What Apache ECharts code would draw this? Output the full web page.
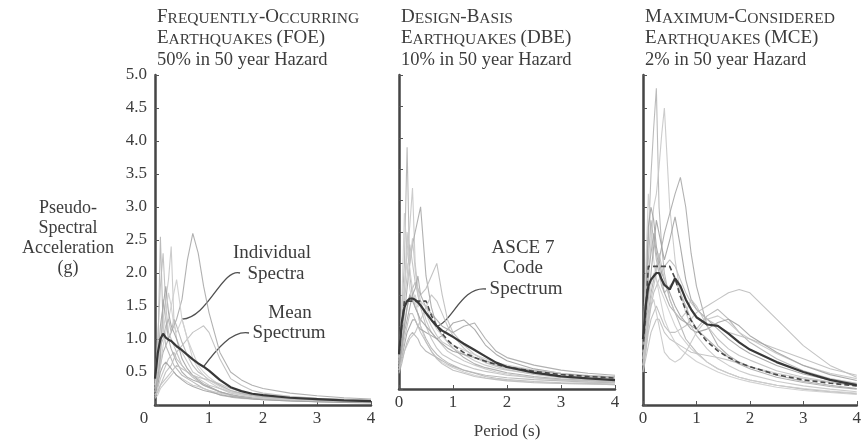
<!DOCTYPE html>
<html>
<head>
<meta charset="utf-8">
<script src="https://cdn.jsdelivr.net/npm/echarts@6/dist/echarts.min.js"></script>
<style>
  html, body { margin: 0; padding: 0; background: #fff; }
  #chart { width: 864px; height: 445px; }
</style>
</head>
<body>
<div id="chart"></div>
<script>
// Spectral periods (s) shared by every spectrum below
const periods = [0, 0.05, 0.1, 0.15, 0.2, 0.25, 0.3, 0.35, 0.4, 0.5, 0.6, 0.7, 0.8, 0.9, 1.0, 1.2, 1.4, 1.6, 1.8, 2.0, 2.5, 3.0, 3.5, 4.0];

// Frequently-occurring earthquakes (50% in 50 years): individual ground-motion spectra, Sa (g)
const foeRecords = [
  [0.30,0.70,2.55,1.20,0.90,0.80,0.70,0.60,0.55,0.45,0.40,0.35,0.30,0.25,0.22,0.15,0.12,0.10,0.09,0.08,0.06,0.05,0.04,0.035],
  [0.25,0.40,0.80,1.30,1.60,1.90,2.40,1.30,1.00,0.80,0.65,0.50,0.45,0.40,0.35,0.25,0.18,0.15,0.12,0.10,0.08,0.06,0.05,0.04],
  [0.25,0.35,0.60,0.80,0.90,1.00,1.10,1.20,1.30,1.60,2.20,2.60,2.30,1.80,1.40,0.80,0.50,0.38,0.30,0.25,0.18,0.14,0.11,0.09],
  [0.35,1.00,1.80,2.30,1.50,1.10,1.00,0.90,0.80,0.60,0.50,0.42,0.36,0.30,0.26,0.20,0.15,0.12,0.10,0.09,0.07,0.05,0.045,0.04],
  [0.20,0.35,0.60,0.90,1.10,1.30,1.50,1.70,1.90,1.30,1.00,0.80,0.60,0.50,0.42,0.30,0.22,0.17,0.14,0.12,0.09,0.07,0.06,0.05],
  [0.30,0.60,1.20,1.50,1.80,1.40,1.20,1.10,1.00,0.70,0.55,0.45,0.38,0.32,0.28,0.20,0.15,0.12,0.10,0.09,0.07,0.06,0.05,0.04],
  [0.15,0.25,0.40,0.50,0.60,0.70,0.75,0.80,0.70,0.60,0.50,0.45,0.40,0.35,0.30,0.25,0.20,0.17,0.14,0.12,0.09,0.07,0.06,0.05],
  [0.25,0.50,0.90,1.00,1.20,1.30,1.10,1.30,1.20,0.95,0.75,0.60,0.50,0.45,0.38,0.30,0.22,0.18,0.15,0.13,0.10,0.08,0.07,0.06],
  [0.10,0.15,0.25,0.30,0.35,0.40,0.45,0.50,0.45,0.40,0.35,0.30,0.28,0.25,0.22,0.18,0.15,0.12,0.10,0.09,0.07,0.06,0.05,0.04],
  [0.20,0.40,0.70,1.60,1.30,1.00,0.85,0.75,0.65,0.50,0.42,0.38,0.35,0.30,0.27,0.20,0.16,0.13,0.11,0.10,0.08,0.07,0.06,0.05],
  [0.15,0.20,0.30,0.40,0.50,0.55,0.60,0.70,0.80,0.90,1.00,1.10,1.15,1.20,1.10,0.70,0.40,0.30,0.22,0.18,0.13,0.10,0.08,0.07],
  [0.30,0.55,1.00,1.10,1.40,1.70,1.50,1.20,1.10,1.30,1.00,0.70,0.55,0.45,0.38,0.28,0.20,0.15,0.12,0.10,0.08,0.06,0.05,0.045],
  [0.20,0.30,0.50,0.60,0.65,0.60,0.55,0.50,0.45,0.38,0.32,0.28,0.25,0.22,0.20,0.16,0.13,0.11,0.09,0.08,0.06,0.05,0.04,0.035],
  [0.12,0.20,0.30,0.35,0.40,0.45,0.50,0.55,0.60,0.55,0.50,0.45,0.42,0.40,0.38,0.32,0.25,0.20,0.17,0.15,0.12,0.10,0.09,0.08]
];
const foeMean = [0.40,0.78,1.00,1.08,1.02,0.99,0.97,0.93,0.89,0.83,0.76,0.69,0.63,0.58,0.52,0.38,0.27,0.21,0.17,0.15,0.11,0.09,0.07,0.06];

// Design-basis earthquakes (10% in 50 years)
const dbeRecords = [
  [0.45,1.20,2.00,3.85,1.80,1.50,1.30,1.20,1.00,0.80,0.65,0.55,0.48,0.42,0.38,0.30,0.25,0.20,0.17,0.15,0.12,0.10,0.09,0.08],
  [0.50,0.90,1.60,2.20,2.60,3.20,2.00,1.60,1.40,1.10,0.90,0.80,0.70,0.60,0.55,0.45,0.38,0.32,0.27,0.24,0.18,0.15,0.13,0.11],
  [0.40,0.70,1.20,1.60,2.00,2.30,2.50,2.70,2.90,1.80,1.30,1.00,0.85,0.75,0.65,0.50,0.40,0.34,0.30,0.26,0.20,0.16,0.14,0.12],
  [0.35,0.60,1.00,1.30,1.50,1.60,1.70,1.60,1.50,1.60,1.80,2.00,1.50,1.10,0.90,0.70,0.55,0.45,0.38,0.33,0.25,0.20,0.17,0.15],
  [0.50,1.30,2.80,2.20,1.90,1.60,1.40,1.20,1.00,0.75,0.60,0.50,0.42,0.38,0.34,0.27,0.22,0.18,0.16,0.14,0.11,0.09,0.08,0.07],
  [0.30,0.50,0.70,0.90,1.00,1.10,1.10,1.00,0.95,0.90,0.85,0.80,0.85,0.95,1.05,1.10,0.95,0.70,0.55,0.45,0.32,0.25,0.20,0.17],
  [0.40,0.80,1.40,1.80,2.30,2.00,1.70,1.50,1.30,1.00,0.80,0.65,0.55,0.50,0.45,0.38,0.32,0.28,0.25,0.22,0.18,0.15,0.13,0.12],
  [0.25,0.40,0.60,0.75,0.85,0.90,0.85,0.80,0.70,0.60,0.55,0.50,0.45,0.40,0.36,0.30,0.26,0.22,0.20,0.18,0.15,0.13,0.11,0.10],
  [0.45,0.90,1.50,2.50,2.00,2.40,1.90,1.50,1.30,1.20,1.00,0.85,0.75,0.70,0.65,0.55,0.45,0.38,0.33,0.30,0.24,0.20,0.18,0.16],
  [0.35,0.60,0.90,1.10,1.30,1.50,1.60,1.80,1.50,1.30,1.20,1.10,1.00,0.95,0.90,1.00,1.05,0.80,0.60,0.50,0.38,0.30,0.25,0.22],
  [0.30,0.50,0.80,1.00,1.20,1.20,1.10,1.00,0.90,0.75,0.60,0.48,0.40,0.35,0.30,0.25,0.20,0.17,0.15,0.13,0.10,0.09,0.08,0.07],
  [0.55,1.10,1.70,2.00,1.60,1.40,1.50,1.30,1.40,1.30,1.10,0.95,0.85,0.75,0.70,0.62,0.55,0.48,0.42,0.38,0.30,0.25,0.22,0.20],
  [0.40,0.70,1.00,1.30,1.50,1.40,1.30,1.20,1.10,1.00,0.90,0.80,0.72,0.65,0.60,0.55,0.50,0.45,0.40,0.36,0.29,0.24,0.21,0.19],
  [0.30,0.45,0.60,0.70,0.80,0.85,0.90,1.00,1.10,1.30,1.50,1.40,1.20,1.00,0.85,0.65,0.50,0.42,0.36,0.31,0.23,0.18,0.15,0.13]
];
const dbeMean = [0.55,1.05,1.30,1.40,1.44,1.44,1.42,1.38,1.33,1.21,1.10,1.00,0.93,0.88,0.83,0.72,0.62,0.52,0.42,0.35,0.26,0.20,0.17,0.14];
const dbeCode = [0.56,1.00,1.40,1.40,1.40,1.40,1.40,1.40,1.40,1.40,1.17,1.00,0.88,0.78,0.70,0.58,0.50,0.44,0.39,0.35,0.28,0.23,0.20,0.175];

// Maximum-considered earthquakes (2% in 50 years)
const mceRecords = [
  [0.90,1.50,2.50,3.50,4.20,4.80,3.00,2.40,2.00,1.60,1.40,1.20,1.00,0.90,0.80,0.65,0.55,0.48,0.42,0.38,0.30,0.24,0.20,0.17],
  [0.80,1.20,1.80,2.50,3.00,3.20,3.60,4.10,4.50,3.00,2.20,1.70,1.40,1.20,1.05,0.85,0.70,0.60,0.52,0.46,0.36,0.29,0.24,0.20],
  [0.70,1.00,1.40,1.70,1.90,2.10,2.20,2.40,2.60,2.90,3.20,3.45,3.00,2.30,1.80,1.20,0.90,0.75,0.65,0.58,0.45,0.36,0.30,0.25],
  [0.60,0.80,1.10,1.30,1.40,1.50,1.40,1.30,1.20,1.10,1.10,1.15,1.20,1.30,1.40,1.50,1.60,1.70,1.75,1.70,1.30,0.90,0.60,0.42],
  [1.00,2.00,3.20,2.60,2.20,1.90,1.80,1.70,1.60,1.40,1.20,1.05,0.95,0.85,0.78,0.65,0.55,0.48,0.42,0.38,0.30,0.25,0.21,0.18],
  [0.70,1.10,1.60,2.00,2.40,2.80,2.60,2.40,2.20,2.50,2.85,2.40,1.90,1.60,1.45,1.30,1.15,1.00,0.88,0.78,0.60,0.47,0.38,0.32],
  [0.50,0.70,0.90,1.10,1.20,1.30,1.30,1.20,1.10,1.00,0.95,0.90,0.85,0.80,0.78,0.75,0.72,0.68,0.63,0.58,0.48,0.40,0.34,0.29],
  [0.90,1.40,2.20,2.80,2.50,2.20,2.00,1.80,1.70,1.80,1.90,1.70,1.50,1.30,1.15,1.35,1.45,1.30,1.10,0.95,0.70,0.52,0.40,0.33],
  [0.60,0.90,1.30,1.50,1.60,1.40,1.20,1.00,0.80,0.70,0.65,0.70,0.80,0.95,1.10,1.30,1.35,1.25,1.10,1.00,0.78,0.60,0.48,0.40],
  [0.80,1.30,2.00,2.30,2.60,2.30,2.10,1.90,1.70,1.50,1.40,1.30,1.25,1.20,1.15,1.00,0.85,0.72,0.62,0.55,0.42,0.34,0.28,0.24],
  [0.50,0.80,1.20,1.50,1.70,1.80,1.90,2.00,2.10,2.20,2.10,1.90,1.70,1.55,1.45,1.30,1.20,1.10,1.05,1.00,0.85,0.70,0.55,0.45],
  [0.70,1.00,1.50,1.80,2.00,1.90,1.70,1.50,1.30,1.10,0.95,0.85,0.78,0.72,0.66,0.58,0.50,0.44,0.39,0.35,0.27,0.22,0.19,0.16],
  [0.90,1.60,2.70,3.00,2.80,2.40,2.20,2.00,1.90,1.70,1.50,1.35,1.25,1.15,1.10,1.15,1.25,1.30,1.20,1.05,0.80,0.60,0.46,0.37],
  [0.60,0.90,1.30,1.60,1.80,2.00,2.30,2.10,1.90,1.60,1.40,1.30,1.40,1.60,1.50,1.20,1.00,0.85,0.75,0.68,0.52,0.42,0.35,0.30]
];
const mceMean = [1.00,1.50,1.80,1.90,1.95,2.00,2.00,1.90,1.82,1.75,1.92,1.80,1.60,1.45,1.33,1.22,1.20,1.08,0.95,0.84,0.65,0.50,0.38,0.30];
const mceCode = [0.84,1.40,2.10,2.10,2.10,2.10,2.10,2.10,2.10,2.10,1.92,1.64,1.44,1.28,1.15,0.96,0.82,0.72,0.64,0.58,0.46,0.38,0.33,0.29];

// Acceleration ticks (g) and period ticks (s)
const saTicks = [0, 0.5, 1.0, 1.5, 2.0, 2.5, 3.0, 3.5, 4.0, 4.5, 5.0];
const periodTicks = [0, 1, 2, 3, 4];

const SERIF = '"Liberation Serif", "DejaVu Serif", serif';
const INK = '#3c3c3c';
const grays = ['#b4b4b4', '#c6c6c6', '#a9a9a9', '#bcbcbc', '#cdcdcd', '#a2a2a2', '#c0c0c0'];

const pairs = vals => periods.map((p, i) => [p, vals[i]]);

const panels = [
  { records: foeRecords, mean: foeMean, code: null },
  { records: dbeRecords, mean: dbeMean, code: dbeCode },
  { records: mceRecords, mean: mceMean, code: mceCode }
];
const gridBoxes = [
  { left: 155, top: 75, width: 216, height: 330 },
  { left: 399, top: 75, width: 216, height: 330 },
  { left: 643, top: 75, width: 214, height: 330 }
];

const series = [];
panels.forEach((pn, k) => {
  pn.records.forEach((r, j) => {
    series.push({
      type: 'line', xAxisIndex: k, yAxisIndex: k, data: pairs(r),
      symbol: 'none', silent: true, z: 2,
      lineStyle: { color: grays[j % grays.length], width: 1.1, opacity: 0.9 }
    });
  });
  if (pn.code) {
    series.push({
      type: 'line', xAxisIndex: k, yAxisIndex: k, data: pairs(pn.code),
      symbol: 'none', silent: true, z: 4,
      lineStyle: { color: '#4a4a4a', width: 1.6, type: [5, 3] }
    });
  }
  series.push({
    type: 'line', xAxisIndex: k, yAxisIndex: k, data: pairs(pn.mean),
    symbol: 'none', silent: true, z: 5,
    lineStyle: { color: '#383838', width: 2.2 }
  });
});

const axisLineStyle = { color: '#454545', width: 2.5 };
const xAxes = gridBoxes.map((g, k) => ({
  type: 'value', gridIndex: k, min: periodTicks[0], max: periodTicks[periodTicks.length - 1], interval: 1,
  axisLine: { show: true, lineStyle: axisLineStyle },
  axisTick: { show: true, inside: true, length: 4, lineStyle: { color: '#555', width: 1 } },
  splitLine: { show: false },
  axisLabel: {
    fontFamily: SERIF, fontSize: 17, color: INK, margin: 5,
    formatter: v => (k === 0 && v === 0) ? '{z|0}' : String(v),
    rich: { z: { fontFamily: SERIF, fontSize: 17, color: INK, padding: [0, 22, 0, 0] } }
  },
  name: k === 1 ? 'Period (s)' : '', nameLocation: 'middle', nameGap: 34,
  nameTextStyle: { fontFamily: SERIF, fontSize: 17, color: INK }
}));
const yAxes = gridBoxes.map((g, k) => ({
  type: 'value', gridIndex: k, min: saTicks[0], max: saTicks[saTicks.length - 1], interval: 0.5,
  axisLine: { show: true, lineStyle: axisLineStyle },
  axisTick: { show: true, inside: true, length: 4, lineStyle: { color: '#555', width: 1 } },
  splitLine: { show: false },
  axisLabel: {
    show: k === 0, fontFamily: SERIF, fontSize: 17, color: INK, margin: 8,
    formatter: v => v === 0 ? '' : v.toFixed(1)
  }
}));

// Small-caps headings built from rich text runs
const capRich = {
  c: { fontFamily: SERIF, fontWeight: 'normal', fontSize: 19, color: INK, lineHeight: 21, verticalAlign: 'bottom' },
  s: { fontFamily: SERIF, fontWeight: 'normal', fontSize: 15.5, color: INK, lineHeight: 19, verticalAlign: 'bottom' },
  n: { fontFamily: SERIF, fontWeight: 'normal', fontSize: 18.5, color: INK, lineHeight: 22, verticalAlign: 'bottom' }
};
const smallCaps = phrase => phrase.split(/(\s+)/).map(part => {
  if (/^\s+$/.test(part)) return '{s| }';
  let out = '';
  let i = 0;
  while (i < part.length) {
    const full = /[A-Z()\-]/.test(part[i]);
    let j = i;
    while (j < part.length && /[A-Z()\-]/.test(part[j]) === full) j++;
    out += full ? '{c|' + part.slice(i, j) + '}' : '{s|' + part.slice(i, j).toUpperCase() + '}';
    i = j;
  }
  return out;
}).join('');

const headings = [
  ['Frequently-Occurring', 'Earthquakes (FOE)', '50% in 50 year Hazard'],
  ['Design-Basis', 'Earthquakes (DBE)', '10% in 50 year Hazard'],
  ['Maximum-Considered', 'Earthquakes (MCE)', '2% in 50 year Hazard']
];
const titles = headings.map((h, k) => ({
  left: gridBoxes[k].left + 2, top: 6,
  text: smallCaps(h[0]) + '\n' + smallCaps(h[1]) + '\n{n|' + h[2] + '}',
  textStyle: { fontWeight: 'normal', fontFamily: SERIF, rich: capRich },
  padding: 0
}));

const chart = echarts.init(document.getElementById('chart'), null, { renderer: 'canvas' });
chart.setOption({
  animation: false,
  backgroundColor: '#ffffff',
  title: titles,
  grid: gridBoxes,
  xAxis: xAxes,
  yAxis: yAxes,
  series: series
});

// Callout texts and their curved leader lines
const px = (k, t, v) => chart.convertToPixel({ xAxisIndex: k, yAxisIndex: k }, [t, v]);
const idx = t => periods.indexOf(t);
const indivEnd = px(0, 0.5, foeRecords[11][idx(0.5)]);
const meanEnd = px(0, 0.9, foeMean[idx(0.9)]);
const codeEnd = px(1, 0.7, dbeCode[idx(0.7)]);

const label = (text, x, y) => ({
  type: 'text', x: x, y: y, silent: true,
  style: { text: text, font: '19px ' + SERIF, fill: INK, align: 'center', verticalAlign: 'middle' }
});
const leader = (sx, sy, c1x, c1y, c2x, c2y, end) => ({
  type: 'bezierCurve', silent: true,
  shape: { x1: sx, y1: sy, cpx1: c1x, cpy1: c1y, cpx2: c2x, cpy2: c2y, x2: end[0], y2: end[1] },
  style: { stroke: '#505050', lineWidth: 1.3, fill: null }
});

chart.setOption({
  graphic: [
    { type: 'text', x: 68, y: 238, silent: true,
      style: { text: 'Pseudo-\nSpectral\nAcceleration\n(g)', font: '18px ' + SERIF, fill: INK,
               align: 'center', verticalAlign: 'middle', lineHeight: 20 } },
    label('Individual', 272, 253),
    label('Spectra', 276, 274),
    label('Mean', 290, 313),
    label('Spectrum', 289, 333),
    label('ASCE 7', 523, 248),
    label('Code', 523, 268),
    label('Spectrum', 526, 289),
    leader(240, 273, 222, 268, 208, 318, indivEnd),
    leader(249, 333, 232, 330, 216, 350, meanEnd),
    leader(486, 289, 462, 286, 452, 322, codeEnd)
  ]
});
</script>
</body>
</html>
